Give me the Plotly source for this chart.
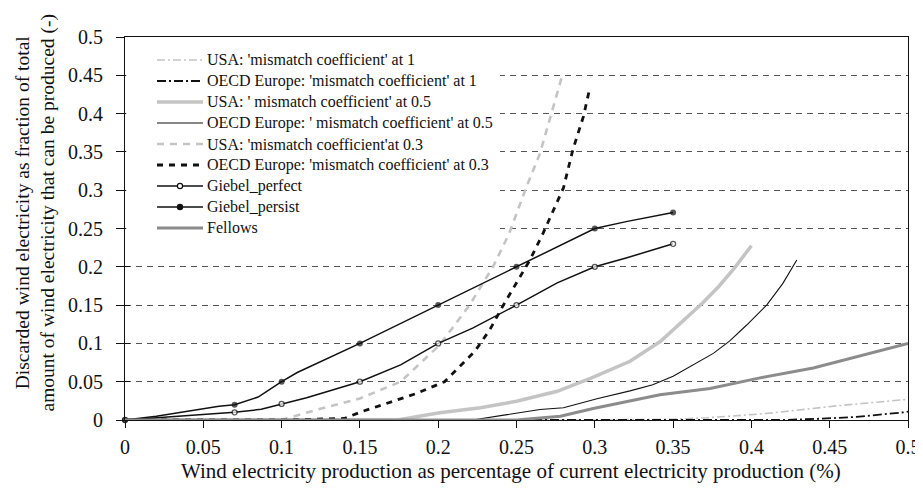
import plotly.graph_objects as go

# ---------------- data ----------------
usa1_x = [0, 0.1, 0.2, 0.3, 0.35, 0.372, 0.40, 0.414, 0.457, 0.5]
usa1_y = [0, 0, 0, 0, 0.001, 0.003, 0.007, 0.0094, 0.019, 0.027]

oecd1_x = [0, 0.1, 0.2, 0.3, 0.42, 0.442, 0.467, 0.497, 0.5]
oecd1_y = [0, 0, 0, 0, 0, 0.0015, 0.004, 0.01, 0.011]

usa05_x = [0, 0.1, 0.174, 0.201, 0.227, 0.25, 0.276, 0.298, 0.3225, 0.342, 0.357, 0.369, 0.379, 0.389, 0.400]
usa05_y = [0, 0, 0, 0.0094, 0.016, 0.0245, 0.0375, 0.055, 0.0767, 0.1027, 0.131, 0.153, 0.174, 0.198, 0.2275]

oecd05_x = [0, 0.1, 0.2, 0.222, 0.244, 0.265, 0.28, 0.302, 0.3225, 0.337, 0.35, 0.363, 0.3757, 0.386, 0.397, 0.41, 0.42, 0.429]
oecd05_y = [0, 0, 0, 0, 0.007, 0.0137, 0.016, 0.028, 0.038, 0.046, 0.057, 0.072, 0.087, 0.103, 0.124, 0.1506, 0.178, 0.209]

usa03_x = [0, 0.05, 0.1, 0.12, 0.15, 0.176, 0.201, 0.22, 0.235, 0.245, 0.2565, 0.265, 0.279]
usa03_y = [0, 0, 0, 0.012, 0.028, 0.05, 0.098, 0.15, 0.2, 0.242, 0.305, 0.348, 0.448]

oecd03_x = [0, 0.1, 0.14, 0.152, 0.186, 0.204, 0.2235, 0.233, 0.2416, 0.25, 0.2586, 0.267, 0.2757, 0.28, 0.286, 0.2927, 0.297]
oecd03_y = [0, 0, 0.002, 0.0115, 0.0345, 0.05, 0.09, 0.118, 0.15, 0.179, 0.209, 0.244, 0.283, 0.303, 0.353, 0.396, 0.435]

perfect_x = [0, 0.045, 0.07, 0.087, 0.1, 0.116, 0.15, 0.176, 0.2, 0.222, 0.25, 0.276, 0.3, 0.32, 0.35]
perfect_y = [0, 0.0065, 0.01, 0.014, 0.021, 0.029, 0.05, 0.072, 0.1, 0.12, 0.15, 0.179, 0.2, 0.2115, 0.23]
perfect_marked = [1, 0, 1, 0, 1, 0, 1, 0, 1, 0, 1, 0, 1, 0, 1]

persist_x = [0, 0.02, 0.045, 0.06, 0.07, 0.085, 0.1, 0.11, 0.15, 0.2, 0.25, 0.3, 0.32, 0.35]
persist_y = [0, 0.005, 0.013, 0.018, 0.02, 0.03, 0.05, 0.062, 0.1, 0.15, 0.2, 0.25, 0.259, 0.271]
persist_marked = [1, 0, 0, 0, 1, 0, 1, 0, 1, 1, 1, 1, 0, 1]

fellows_x = [0, 0.1, 0.2, 0.25, 0.278, 0.299, 0.3416, 0.3736, 0.4055, 0.4395, 0.5]
fellows_y = [0, 0, 0, 0, 0.005, 0.015, 0.033, 0.041, 0.055, 0.068, 0.1]

tick_vals = [0, 0.05, 0.1, 0.15, 0.2, 0.25, 0.3, 0.35, 0.4, 0.45, 0.5]
tick_text = ["0", "0.05", "0.1", "0.15", "0.2", "0.25", "0.3", "0.35", "0.4", "0.45", "0.5"]

names = [
    "USA: 'mismatch coefficient' at 1",
    "OECD Europe: 'mismatch coefficient' at 1",
    "USA: ' mismatch coefficient' at 0.5",
    "OECD Europe: ' mismatch coefficient' at 0.5",
    "USA: 'mismatch coefficient'at 0.3",
    "OECD Europe: 'mismatch coefficient' at 0.3",
    "Giebel_perfect",
    "Giebel_persist",
    "Fellows",
]

FONT = "'Liberation Serif', 'Times New Roman', serif"
LIGHT = "#c4c4c4"
MID = "#8c8c8c"
INK = "#111111"

# styles (same order as names)
styles = [
    dict(color=LIGHT, width=1.6, dash="8px,3px,2px,3px"),
    dict(color=INK, width=1.8, dash="9px,3px,2px,3px"),
    dict(color=LIGHT, width=3.5, dash="solid"),
    dict(color=INK, width=1.1, dash="solid"),
    dict(color=LIGHT, width=2.6, dash="7px,6px"),
    dict(color=INK, width=2.8, dash="6px,6px"),
    dict(color=INK, width=1.5, dash="solid"),
    dict(color=INK, width=1.5, dash="solid"),
    dict(color=MID, width=3, dash="solid"),
]
marker_fill = [None, None, None, None, None, None, "white", INK, None]

# layout geometry (figure pixels)
W, H = 923, 492
L, T, PW, PH = 117, 29, 783, 383
R, B = W - L - PW, H - T - PH

def px_x(p):
    return (p - L) / PW

def px_y(p):
    return 1 - (p - T) / PH

fig = go.Figure()

series = [(usa1_x, usa1_y), (oecd1_x, oecd1_y), (usa05_x, usa05_y), (oecd05_x, oecd05_y),
          (usa03_x, usa03_y), (oecd03_x, oecd03_y)]
for i, (xs, ys) in enumerate(series):
    fig.add_trace(go.Scatter(x=xs, y=ys, name=names[i], mode="lines",
                             line=styles[i], showlegend=False, hoverinfo="skip"))

fig.add_trace(go.Scatter(
    x=perfect_x, y=perfect_y, name=names[6], mode="lines+markers",
    line=styles[6],
    marker=dict(size=[5 if m else 0 for m in perfect_marked], color="white",
                symbol="circle", line=dict(color=INK, width=1.3)),
    cliponaxis=False, showlegend=False, hoverinfo="skip"))
fig.add_trace(go.Scatter(
    x=persist_x, y=persist_y, name=names[7], mode="lines+markers",
    line=styles[7],
    marker=dict(size=[6 if m else 0 for m in persist_marked], color=INK,
                symbol="circle", line=dict(color=INK, width=0)),
    cliponaxis=False, showlegend=False, hoverinfo="skip"))
fig.add_trace(go.Scatter(x=fellows_x, y=fellows_y, name=names[8], mode="lines",
                         line=styles[8], showlegend=False, hoverinfo="skip"))

# invisible trace to carry the inner-tick overlay axis
fig.add_trace(go.Scatter(x=[0], y=[0], yaxis="y2", mode="markers",
                         marker=dict(size=0.1, opacity=0), showlegend=False,
                         hoverinfo="skip"))

# ---- legend drawn by hand (white box, samples, labels) ----
shapes = [dict(type="rect", xref="paper", yref="paper", layer="above",
               x0=0.0015, x1=px_x(492), y0=px_y(237), y1=0.997,
               fillcolor="white", line=dict(width=0))]
annotations = []
row0, row_h = 52, 21
sx0, sx1, tx = 149, 195, 197
for i, nm in enumerate(names):
    yc = px_y(row0 + row_h * i)
    shapes.append(dict(type="line", xref="paper", yref="paper", layer="above",
                       x0=px_x(sx0), x1=px_x(sx1), y0=yc, y1=yc, line=styles[i]))
    if marker_fill[i]:
        shapes.append(dict(type="circle", xref="paper", yref="paper", layer="above",
                           xsizemode="pixel", ysizemode="pixel",
                           xanchor=px_x((sx0 + sx1) / 2), yanchor=yc,
                           x0=-2.6, x1=2.6, y0=-2.6, y1=2.6,
                           fillcolor=marker_fill[i], line=dict(color=INK, width=1.2)))
    annotations.append(dict(text=nm, xref="paper", yref="paper", x=px_x(tx), y=yc,
                            xanchor="left", yanchor="middle", showarrow=False,
                            font=dict(family=FONT, size=16, color=INK)))

annotations += [
    dict(text="Wind electricity production as percentage of current electricity production (%)",
         xref="paper", yref="paper", x=0.5, y=0, xanchor="center", yanchor="middle",
         xshift=-6, yshift=-51, showarrow=False,
         font=dict(family=FONT, size=21, color=INK)),
    dict(text="Discarded wind electricity as fraction of total<br>amount of wind electricity that can be produced (-)",
         xref="paper", yref="paper", x=0, y=0.5, xanchor="center", yanchor="middle",
         xshift=-90, yshift=15, textangle=-90, showarrow=False,
         font=dict(family=FONT, size=19.5, color=INK)),
]

fig.update_layout(
    width=W, height=H,
    margin=dict(l=L, r=R, t=T, b=B, autoexpand=False),
    paper_bgcolor="white", plot_bgcolor="white",
    font=dict(family=FONT, color=INK, size=20),
    showlegend=False,
    xaxis=dict(range=[0, 0.5], tickvals=tick_vals, ticktext=tick_text,
               ticks="outside", ticklen=7, tickcolor=INK, tickwidth=1,
               showline=True, linecolor=INK, linewidth=1, mirror=True,
               showgrid=False, zeroline=False, automargin=False,
               ticklabelstandoff=2,
               tickfont=dict(family=FONT, size=20, color=INK)),
    yaxis=dict(range=[0, 0.5], tickvals=tick_vals, ticktext=tick_text,
               ticks="outside", ticklen=8, tickcolor=INK, tickwidth=1,
               showline=True, linecolor=INK, linewidth=1, mirror=True,
               showgrid=True, gridcolor="#555555", gridwidth=1, griddash="6px,5px",
               zeroline=False, ticklabelstandoff=9, automargin=False,
               tickfont=dict(family=FONT, size=20, color=INK)),
    yaxis2=dict(range=[0, 0.5], overlaying="y", side="left", tickvals=tick_vals,
                showticklabels=False, ticks="inside", ticklen=5,
                tickcolor=INK, showgrid=False, zeroline=False,
                showline=False, automargin=False),
    shapes=shapes,
    annotations=annotations,
)

fig.write_html("out.html")
